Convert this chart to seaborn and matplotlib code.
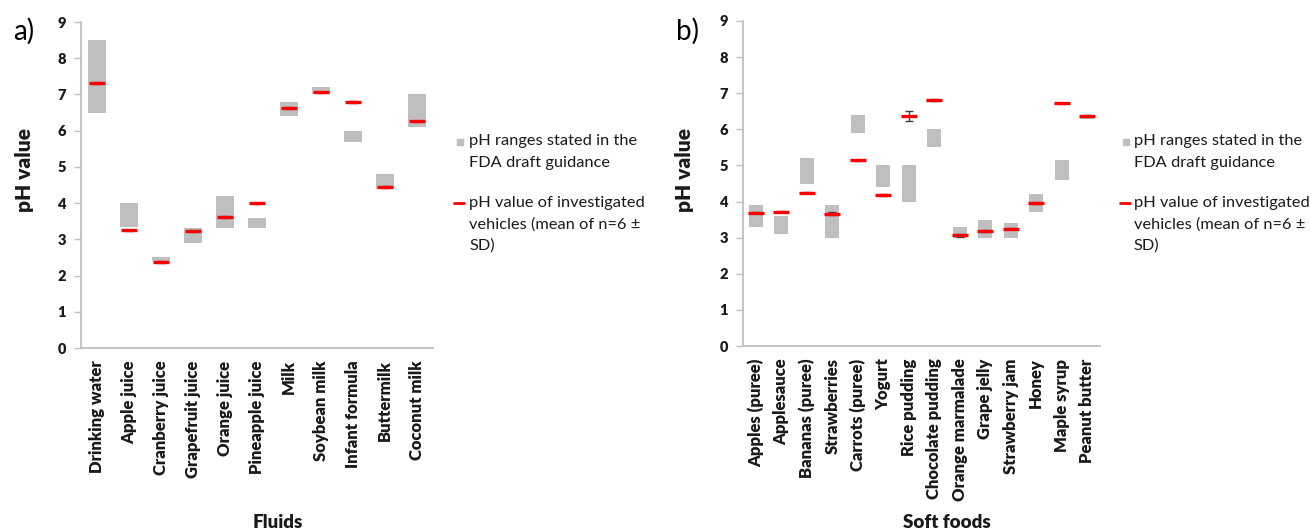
import matplotlib.pyplot as plt
import seaborn as sns
from matplotlib.patches import Rectangle
from matplotlib.lines import Line2D

# panel a) fluids
fluids = ["Drinking water", "Apple juice", "Cranberry juice", "Grapefruit juice",
          "Orange juice", "Pineapple juice", "Milk", "Soybean milk",
          "Infant formula", "Buttermilk", "Coconut milk"]
fluids_low = [6.5, 3.35, 2.4, 2.9, 3.3, 3.3, 6.4, 7.0, 5.7, 4.4, 6.1]
fluids_high = [8.5, 4.0, 2.5, 3.3, 4.2, 3.6, 6.8, 7.2, 6.0, 4.8, 7.0]
fluids_mean = [7.31, 3.25, 2.38, 3.23, 3.62, 3.99, 6.63, 7.06, 6.79, 4.45, 6.26]
fluids_sd = [0.02, 0.02, 0.02, 0.02, 0.02, 0.02, 0.02, 0.02, 0.02, 0.02, 0.02]

# panel b) soft foods
foods = ["Apples (puree)", "Applesauce", "Bananas (puree)", "Strawberries",
         "Carrots (puree)", "Yogurt", "Rice pudding", "Chocolate pudding",
         "Orange marmalade", "Grape jelly", "Strawberry jam", "Honey",
         "Maple syrup", "Peanut butter"]
foods_low = [3.3, 3.1, 4.5, 3.0, 5.9, 4.4, 4.0, 5.5, 3.0, 3.0, 3.0, 3.7, 4.6, 6.3]
foods_high = [3.9, 3.6, 5.2, 3.9, 6.4, 5.0, 5.0, 6.0, 3.3, 3.5, 3.4, 4.2, 5.15, 6.4]
foods_mean = [3.69, 3.72, 4.25, 3.66, 5.14, 4.18, 6.38, 6.81, 3.07, 3.19, 3.25,
              3.96, 6.72, 6.37]
foods_sd = [0.02, 0.02, 0.02, 0.04, 0.02, 0.02, 0.14, 0.02, 0.04, 0.02, 0.02,
            0.02, 0.02, 0.02]

legend_range = ["pH ranges stated in the", "FDA draft guidance"]
legend_mean = ["pH value of investigated", "vehicles (mean of n=6 \u00b1", "SD)"]

sns.set_style("white")
plt.rcParams["font.family"] = ["Lato", "DejaVu Sans"]
plt.rcParams["font.weight"] = "heavy"

W, H = 1311, 530
fig = plt.figure(figsize=(W / 100, H / 100), dpi=100)
GRAY = "#bfbfbf"
TXT = "#1a1a1a"


def fx(x):
    return x / W


def fy(y):
    return 1 - y / H


def panel(box, cats, low, high, mean, sd):
    left, top, right, bottom = box
    ax = fig.add_axes([fx(left), fy(bottom), fx(right - left), (bottom - top) / H])
    span = [h - l for h, l in zip(high, low)]
    sns.barplot(x=cats, y=span, bottom=low, color=GRAY, saturation=1,
                width=0.56, linewidth=0, ax=ax)
    ax.errorbar(range(len(cats)), mean, yerr=sd, fmt="none", ecolor="#404040",
                elinewidth=1, capsize=3, zorder=2.5)
    sns.pointplot(x=cats, y=mean, color="red", marker="_", linestyle="none",
                  markersize=12, markeredgewidth=2.4, errorbar=None, zorder=5,
                  ax=ax)
    ax.set_ylim(0, 9)
    ax.set_xlim(-0.5, len(cats) - 0.5)
    ax.set_yticks(range(10))
    ax.set_xlabel("")
    ax.set_ylabel("")
    sns.despine(ax=ax)
    for s in ["left", "bottom"]:
        ax.spines[s].set_color(GRAY)
        ax.spines[s].set_linewidth(1.3)
    ax.tick_params(axis="y", length=5, width=1, color=GRAY, left=True,
                   labelsize=10.5, labelcolor=TXT, pad=6)
    ax.tick_params(axis="x", length=0, labelsize=12, labelcolor=TXT, pad=9,
                   rotation=90)
    return ax


panel((81, 22, 433, 348), fluids, fluids_low, fluids_high, fluids_mean, fluids_sd)
panel((743, 21, 1100, 346), foods, foods_low, foods_high, foods_mean, foods_sd)

# panel tags, axis titles
for x, tag in [(13, "a)"), (676, "b)")]:
    fig.text(fx(x), fy(31), tag, fontsize=20, fontweight="normal", color="black",
             va="center", ha="left")
for x in [25, 685]:
    fig.text(fx(x), fy(170), "pH value", rotation=90, fontsize=15,
             color=TXT, ha="center", va="center")
fig.text(fx(278), fy(522), "Fluids", fontsize=13.5, color=TXT,
         ha="center", va="center")
fig.text(fx(947), fy(522), "Soft foods", fontsize=13.5, color=TXT,
         ha="center", va="center")

# legends
for sx, tx in [(457, 469), (1123, 1134)]:
    fig.patches.append(Rectangle((fx(sx), fy(145)), 6 / W, 6 / H, color=GRAY,
                                 transform=fig.transFigure, figure=fig))
    fig.lines.append(Line2D([fx(sx - 3), fx(sx + 7)], [fy(203), fy(203)],
                            color="red", linewidth=2, transform=fig.transFigure,
                            figure=fig))
    for i, line in enumerate(legend_range):
        fig.text(fx(tx), fy(141 + 21.5 * i), line, fontsize=11.8,
                 fontweight="normal", color=TXT, va="center", ha="left")
    for i, line in enumerate(legend_mean):
        fig.text(fx(tx), fy(203 + 21.5 * i), line, fontsize=11.8,
                 fontweight="normal", color=TXT, va="center", ha="left")

fig.savefig("out.png", dpi=100)
